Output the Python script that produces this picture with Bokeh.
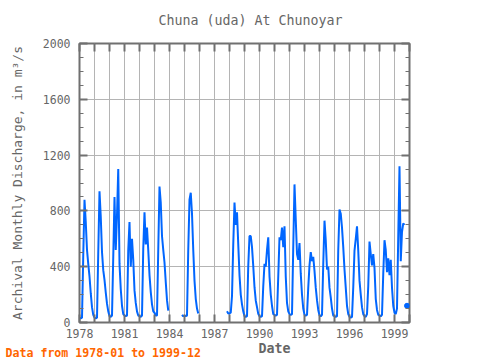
import math
from bokeh.plotting import figure
from bokeh.models import Range1d, LinearAxis, FixedTicker, Title, ColumnDataSource
from bokeh.embed import file_html
from bokeh.resources import INLINE

nan = float("nan")

# Monthly discharge (m3/s), Jan..Dec
q1978 = [35, 30, 35, 480, 880, 720, 520, 420, 330, 210, 110, 55]
q1979 = [35, 30, 35, 500, 940, 760, 505, 375, 305, 215, 135, 80]
q1980 = [45, 40, 50, 470, 900, 520, 770, 1100, 420, 240, 120, 60]
q1981 = [50, 45, 50, 520, 720, 400, 600, 450, 230, 140, 80, 50]
q1982 = [45, 40, 50, 530, 790, 560, 680, 520, 340, 220, 130, 80]
q1983 = [70, 50, 50, 520, 975, 860, 620, 520, 430, 290, 160, 85]
q1984 = [nan, nan, nan, nan, nan, nan, nan, nan, nan, nan, 55, 45]
q1985 = [50, 45, 50, 520, 880, 930, 780, 520, 300, 170, 100, 65]
q1986 = [nan, nan, nan, nan, nan, nan, nan, nan, nan, nan, nan, nan]
q1987 = [nan, nan, nan, nan, nan, nan, nan, nan, nan, nan, 80, 65]
q1988 = [65, 70, 190, 560, 860, 700, 790, 560, 340, 200, 130, 80]
q1989 = [45, 40, 45, 405, 620, 620, 540, 405, 253, 158, 110, 62]
q1990 = [45, 40, 45, 260, 420, 400, 520, 610, 330, 200, 120, 60]
q1991 = [55, 50, 55, 330, 610, 590, 680, 540, 690, 330, 140, 80]
q1992 = [60, 55, 60, 540, 990, 740, 490, 450, 570, 350, 200, 100]
q1993 = [55, 50, 55, 250, 410, 505, 440, 470, 370, 250, 160, 90]
q1994 = [50, 45, 55, 420, 730, 590, 380, 400, 250, 180, 100, 50]
q1995 = [45, 40, 45, 520, 810, 780, 680, 540, 380, 250, 120, 60]
q1996 = [40, 35, 40, 253, 515, 600, 690, 515, 300, 200, 110, 60]
q1997 = [45, 40, 60, 260, 580, 490, 410, 490, 390, 170, 90, 55]
q1998 = [50, 45, 55, 350, 590, 520, 360, 460, 340, 450, 250, 120]
q1999 = [70, 60, 100, 620, 1120, 440, 650, 710, 700, nan, 120, nan]

years_data = list(range(1978, 2000))
series = [q1978, q1979, q1980, q1981, q1982, q1983, q1984, q1985, q1986, q1987,
          q1988, q1989, q1990, q1991, q1992, q1993, q1994, q1995, q1996, q1997,
          q1998, q1999]

y_ticks = [0, 400, 800, 1200, 1600, 2000]
x_label_years = [1978, 1981, 1984, 1987, 1990, 1993, 1996, 1999]

title_text = "Chuna (uda) At Chunoyar"
ylabel_text = "Archival Monthly Discharge, in m\u00b3/s"
xlabel_text = "Date"
note_text = "Data from 1978-01 to 1999-12"

xs, ys = [], []
for yr, vals in zip(years_data, series):
    for m, v in enumerate(vals):
        xs.append(yr + m / 12.0)
        ys.append(v)

# isolated points (both neighbours missing) drawn as dots
iso_x, iso_y = [], []
for i, v in enumerate(ys):
    if math.isnan(v):
        continue
    prev_nan = i == 0 or math.isnan(ys[i - 1])
    next_nan = i == len(ys) - 1 or math.isnan(ys[i + 1])
    if prev_nan and next_nan:
        iso_x.append(xs[i])
        iso_y.append(v)

FONT = "DejaVu Sans Mono"
GREY = "#666666"
FRAME = "#707070"

p = figure(width=480, height=360, x_range=Range1d(1978, 2000), y_range=Range1d(0, 2000),
           output_backend="svg", toolbar_location=None,
           min_border_left=79, min_border_right=71, min_border_top=43, min_border_bottom=38)
p.background_fill_color = "white"
p.border_fill_color = "white"
p.outline_line_color = FRAME
p.outline_line_width = 2

all_years = list(range(1978, 2001))
overrides = {yv: (str(yv) if yv in x_label_years else "") for yv in all_years}

xa = p.xaxis[0]
xa.ticker = FixedTicker(ticks=all_years)
xa.major_label_overrides = overrides

ya = p.yaxis[0]
ya.ticker = FixedTicker(ticks=y_ticks, minor_ticks=list(range(0, 2001, 100)))

top = LinearAxis(ticker=FixedTicker(ticks=all_years))
right = LinearAxis(ticker=FixedTicker(ticks=y_ticks, minor_ticks=list(range(0, 2001, 100))))
p.add_layout(top, "above")
p.add_layout(right, "right")

for ax in [xa, ya, top, right]:
    ax.axis_line_color = None
    ax.major_tick_in = 8
    ax.major_tick_out = 0
    ax.minor_tick_in = 4
    ax.minor_tick_out = 0
    ax.major_tick_line_color = FRAME
    ax.major_tick_line_width = 2
    ax.minor_tick_line_color = FRAME
    ax.minor_tick_line_width = 1
    ax.major_label_text_font = FONT
    ax.major_label_text_font_size = "11.5px"
    ax.major_label_text_color = GREY

xa.minor_tick_line_color = None
top.minor_tick_line_color = None
for ax in [top, right]:
    ax.major_label_text_alpha = 0
    ax.major_label_text_font_size = "0px"
    ax.major_label_standoff = 0
xa.major_label_standoff = 6
ya.major_label_standoff = 9

ya.axis_label = ylabel_text
ya.axis_label_text_font = FONT
ya.axis_label_text_font_size = "13px"
ya.axis_label_text_font_style = "normal"
ya.axis_label_text_color = GREY
ya.axis_label_standoff = 15

p.xgrid.ticker = FixedTicker(ticks=all_years)
p.ygrid.ticker = FixedTicker(ticks=y_ticks)
p.xgrid.grid_line_color = "#b4b4b4"
p.ygrid.grid_line_color = "#b4b4b4"
p.xgrid.grid_line_width = 1
p.ygrid.grid_line_width = 1

src = ColumnDataSource(data=dict(x=xs, y=ys))
p.line("x", "y", source=src, line_color="#0066ff", line_width=2)
p.scatter(iso_x, iso_y, size=5, color="#0066ff")

# trailing empty line lifts the title away from the frame
p.title = Title(text=title_text + "\n", align="left", offset=79, standoff=2,
                text_font=FONT, text_font_size="13.3px", text_font_style="normal",
                text_color=GREY)

date_title = Title(text=xlabel_text, align="left", offset=179, standoff=0,
                   vertical_align="top",
                   text_font=FONT, text_font_size="13.3px", text_font_style="bold",
                   text_color=GREY)
note_title = Title(text=note_text, align="left", offset=-74, standoff=-24,
                   vertical_align="top",
                   text_font=FONT, text_font_size="11.6px", text_font_style="bold",
                   text_color="#ff6600")
p.add_layout(date_title, "below")
p.add_layout(note_title, "below")

open("out.html", "w").write(file_html(p, INLINE))
